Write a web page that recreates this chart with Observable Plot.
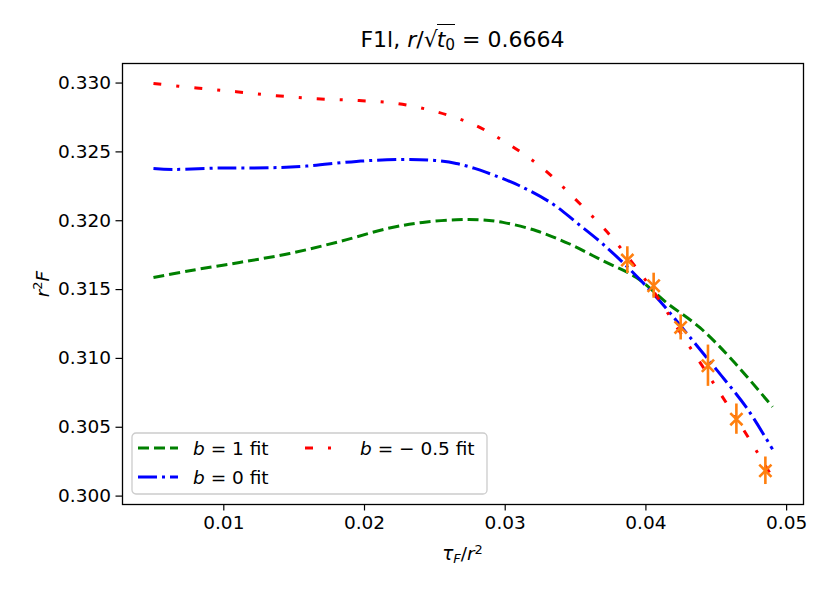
<!DOCTYPE html>
<html><head><meta charset="utf-8">
<script src="https://cdn.jsdelivr.net/npm/d3@7"></script>
<script src="https://cdn.jsdelivr.net/npm/@observablehq/plot@0.6"></script>
<style>
body{margin:0;background:#fff;font-family:"DejaVu Sans",sans-serif;color:#000;}
#wrap{position:relative;width:830px;height:595px;overflow:hidden;}
.lbl{position:absolute;white-space:nowrap;font-family:"DejaVu Sans",sans-serif;}
.lbl i{font-style:italic;}
.sub{font-size:0.7em;line-height:0;vertical-align:-0.22em;}
.sup{font-size:0.7em;line-height:0;vertical-align:0.5em;}
</style></head>
<body><div id="wrap"></div>
<script>
// ---- data ----
const greenX = [0.005, 0.00757, 0.01112, 0.01468, 0.01823, 0.02178, 0.02413, 0.02652, 0.02818, 0.02984, 0.03221, 0.03458, 0.03694, 0.03932, 0.04145, 0.04382, 0.04618, 0.049];
const greenY = [0.31588, 0.31637, 0.31697, 0.31762, 0.31849, 0.31947, 0.31988, 0.32007, 0.32007, 0.31988, 0.31927, 0.31831, 0.31709, 0.31588, 0.31406, 0.31225, 0.30983, 0.30648];

const blueX = [0.005, 0.00636, 0.00991, 0.01347, 0.01586, 0.01942, 0.02249, 0.02463, 0.02652, 0.02783, 0.02866, 0.03102, 0.03339, 0.03505, 0.03694, 0.03908, 0.04097, 0.04334, 0.045, 0.04714, 0.049];
const blueY = [0.32380, 0.32373, 0.32383, 0.32385, 0.32397, 0.32431, 0.32445, 0.32441, 0.32416, 0.32380, 0.32351, 0.32254, 0.32121, 0.31988, 0.31831, 0.31624, 0.31419, 0.31128, 0.30920, 0.30644, 0.30340];

const redX = [0.005, 0.00805, 0.01089, 0.01373, 0.01657, 0.01942, 0.02226, 0.0251, 0.02783, 0.03031, 0.03268, 0.03481, 0.03683, 0.03778, 0.04026, 0.04263, 0.04382, 0.04524, 0.04689, 0.04832, 0.049];
const redY = [0.32997, 0.32964, 0.32937, 0.32908, 0.32886, 0.32874, 0.32852, 0.32792, 0.32695, 0.32552, 0.32380, 0.32174, 0.31964, 0.31855, 0.31528, 0.31158, 0.30975, 0.30752, 0.30490, 0.30250, 0.30135];

const ptX = [0.03868, 0.04055, 0.04247, 0.04441, 0.04643, 0.04849];
const ptY = [0.31714, 0.31528, 0.31225, 0.30947, 0.30559, 0.30184];
const ptErr = [0.00097, 0.00091, 0.00091, 0.0015, 0.0011, 0.0010];

const seriesNames = ["b1", "b0", "bm05"];
const xTicks = [0.01, 0.02, 0.03, 0.04, 0.05];
const yTicks = [0.300, 0.305, 0.310, 0.315, 0.320, 0.325, 0.330];

// ---- styles (kept separate from data) ----
const styles = {
  b1:   {stroke: "#008000", dash: "11,5"},
  b0:   {stroke: "#0000ff", dash: "19,5,3,5"},
  bm05: {stroke: "#ff0000", dash: "8,15,3,15"}
};

const toRows = (xs, ys) => xs.map((x, i) => ({x, y: ys[i]}));
const curves = {b1: toRows(greenX, greenY), b0: toRows(blueX, blueY), bm05: toRows(redX, redY)};
const pts = ptX.map((x, i) => ({x, y: ptY[i], lo: ptY[i] - ptErr[i], hi: ptY[i] + ptErr[i]}));

const lineMarks = seriesNames.map(k => Plot.line(curves[k], {
  x: "x", y: "y", stroke: styles[k].stroke, strokeWidth: 3,
  strokeDasharray: styles[k].dash, strokeLinecap: "butt", curve: "catmull-rom"
}));

const svg = Plot.plot({
  width: 830, height: 595,
  marginLeft: 122, marginRight: 27, marginTop: 63, marginBottom: 91,
  style: {fontFamily: "DejaVu Sans", fontSize: "18.5px", color: "black", background: "white"},
  x: {domain: [0.0028, 0.0512]},
  y: {domain: [0.29939, 0.33142]},
  marks: [
    Plot.axisX({ticks: xTicks, tickFormat: d3.format(".2f"), tickSize: 6.5, tickPadding: 5, label: null, fontSize: 18.5, strokeWidth: 1.2}),
    Plot.axisY({ticks: yTicks, tickFormat: d3.format(".3f"), tickSize: 6.5, tickPadding: 5, label: null, fontSize: 18.5, strokeWidth: 1.2}),
    ...lineMarks,
    Plot.ruleX(pts, {x: "x", y1: "lo", y2: "hi", stroke: "#ff7f0e", strokeWidth: 2.6}),
    Plot.dot(pts, {x: "x", y: "y", symbol: "times", r: 5.6, stroke: "#ff7f0e", strokeWidth: 2.6}),
    Plot.frame({stroke: "black", strokeWidth: 1.3})
  ]
});
const wrap = document.getElementById("wrap");
svg.style.position = "absolute";
svg.style.left = "0px";
svg.style.top = "0px";
wrap.appendChild(svg);

// ---- title & axis labels ----
const title = document.createElement("div");
title.className = "lbl";
title.style.cssText = "left:122px;width:681px;top:29px;text-align:center;font-size:22px;line-height:22px;";
title.innerHTML = 'F1l, <i>r</i>/√<span style="border-top:1.6px solid #000;padding-top:2px;margin-left:-1px"><i>t</i><span class="sub">0</span></span> = 0.6664';
wrap.appendChild(title);

const xl = document.createElement("div");
xl.className = "lbl";
xl.style.cssText = "left:122px;width:681px;top:545px;text-align:center;font-size:18.5px;line-height:18.5px;";
xl.innerHTML = '<i>τ</i><span class="sub"><i>F</i></span>/<i>r</i><span class="sup">2</span>';
wrap.appendChild(xl);

const yl = document.createElement("div");
yl.className = "lbl";
yl.style.cssText = "left:43px;top:284px;font-size:18.5px;line-height:18.5px;transform:translate(-50%,-50%) rotate(-90deg);";
yl.innerHTML = '<i>r</i><span class="sup">2</span><i>F</i>';
wrap.appendChild(yl);

// ---- legend ----
const legendItems = [
  {key: "b1",   label: '<tspan font-style="italic">b</tspan> = 1 fit', col: 0, row: 0},
  {key: "bm05", label: '<tspan font-style="italic">b</tspan> = − 0.5 fit', col: 1, row: 0},
  {key: "b0",   label: '<tspan font-style="italic">b</tspan> = 0 fit', col: 0, row: 1}
];
const colX = [7, 174], rowY = [16, 45];
let lg = '<svg xmlns="http://www.w3.org/2000/svg" width="358" height="64" style="position:absolute;left:131px;top:432px;font-family:DejaVu Sans;font-size:18.5px">';
lg += '<rect x="1" y="1" width="355" height="61" rx="4" ry="4" fill="white" fill-opacity="0.8" stroke="#cccccc" stroke-width="1.3"/>';
for (const it of legendItems) {
  const x0 = colX[it.col], y0 = rowY[it.row];
  lg += `<line x1="${x0}" x2="${x0 + 40}" y1="${y0}" y2="${y0}" stroke="${styles[it.key].stroke}" stroke-width="3" stroke-dasharray="${styles[it.key].dash}"/>`;
  lg += `<text x="${x0 + 55}" y="${y0}" dy="0.36em" fill="black">${it.label}</text>`;
}
lg += '</svg>';
wrap.insertAdjacentHTML("beforeend", lg);
</script>
</body></html>
